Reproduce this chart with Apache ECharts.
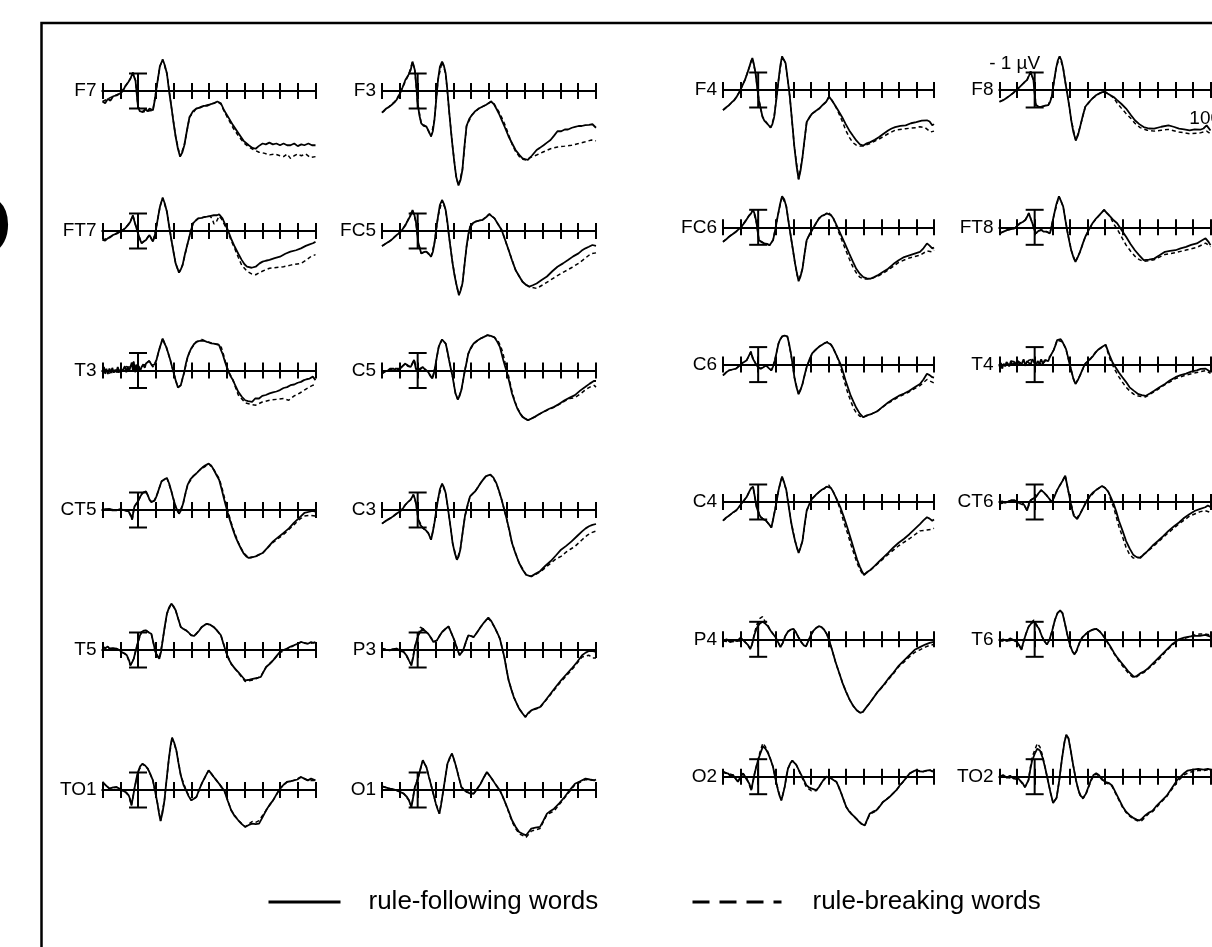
<!DOCTYPE html>
<html><head><meta charset="utf-8">
<script src="https://cdn.jsdelivr.net/npm/echarts@6/dist/echarts.min.js"></script>
<style>html,body{margin:0;padding:0;background:#fff}#c{width:1212px;height:947px}</style>
</head><body><div id="c"></div>
<script>
// ---- time axis (ms) and scale bar (µV) ----
const TIME_MIN = -200, TIME_MAX = 1000, TIME_STEP = 100;
const SCALE_BAR_UV = 1;
const seriesNames = ['rule-following words', 'rule-breaking words'];

// ---- waveforms: [time ms, amplitude µV] (negative plotted up) ----
const F7_follow = [[-200,0.6],[-185,0.7],[-170,0.45],[-155,0.55],[-140,0.3],[-120,0.25],[-100,0.13],[-85,0.0],[-73,-0.25],[-55,-0.5],[-43,-0.7],[-29,-1.05],[-20,-0.75],[-14,-0.6],[-5,0.4],[0,0.9],[10,1.15],[25,1.2],[40,1.05],[55,1.15],[65,1.0],[84,1.1],[95,0.5],[104,-0.15],[123,-1.4],[139,-1.8],[150,-1.5],[163,-1.0],[175,0.0],[188,0.9],[200,1.8],[212,2.6],[225,3.3],[237,3.75],[250,3.5],[261,3.1],[275,2.3],[290,1.5],[310,1.15],[329,1.0],[350,0.95],[370,0.85],[388,0.85],[410,0.75],[430,0.7],[447,0.6],[467,0.7],[485,1.1],[506,1.45],[535,1.95],[565,2.4],[595,2.85],[624,3.1],[645,3.25],[663,3.3],[680,3.15],[702,3.0],[720,3.05],[740,2.95],[760,3.05],[780,3.0],[800,3.1],[820,3.0],[840,3.1],[859,3.1],[880,3.0],[900,3.15],[920,3.05],[937,3.1],[960,3.0],[980,3.1],[1000,3.1]];
const F7_break = [[-200,0.6],[-170,0.45],[-140,0.3],[-100,0.13],[-73,-0.25],[-43,-0.7],[-29,-1.05],[-14,-0.6],[0,0.9],[25,1.2],[55,1.15],[84,1.1],[104,-0.15],[123,-1.4],[139,-1.8],[163,-1.0],[188,0.9],[212,2.6],[237,3.75],[261,3.1],[290,1.5],[329,1.0],[370,0.85],[410,0.75],[447,0.6],[467,0.75],[485,1.15],[506,1.55],[535,2.1],[565,2.55],[595,2.95],[624,3.2],[650,3.35],[682,3.5],[710,3.55],[741,3.65],[770,3.6],[800,3.7],[820,3.75],[840,3.6],[859,3.85],[880,3.7],[900,3.6],[920,3.7],[945,3.6],[970,3.8],[1000,3.75]];

const F3_follow = [[-200,1.24],[-176,1.0],[-160,0.9],[-147,0.8],[-130,0.65],[-118,0.5],[-98,0.13],[-85,-0.2],[-69,-0.63],[-50,-0.95],[-39,-1.2],[-29,-1.68],[-16,-1.2],[-8,-0.3],[0,0.7],[10,1.4],[20,1.85],[35,2.0],[49,2.04],[62,2.3],[75,2.6],[85,2.3],[94,1.65],[104,0.5],[114,-0.63],[125,-1.4],[137,-1.68],[147,-1.45],[157,-1.0],[167,0.0],[176,1.1],[186,2.2],[196,3.2],[206,4.1],[216,4.9],[229,5.4],[240,5.1],[251,4.5],[262,3.2],[274,2.0],[289,1.6],[304,1.37],[323,1.15],[343,1.0],[362,0.9],[382,0.8],[397,0.7],[412,0.6],[427,0.75],[441,1.0],[456,1.3],[471,1.65],[490,2.1],[510,2.6],[530,3.0],[549,3.37],[570,3.65],[588,3.85],[605,3.9],[618,3.94],[640,3.7],[667,3.37],[685,3.25],[706,3.1],[725,2.95],[745,2.8],[765,2.55],[784,2.3],[805,2.3],[825,2.2],[843,2.2],[865,2.1],[883,2.05],[902,2.0],[920,2.0],[940,1.95],[961,1.94],[980,1.9],[1000,2.1]];
const F3_break = [[-200,1.24],[-160,0.9],[-118,0.5],[-85,-0.2],[-50,-0.95],[-29,-1.68],[-16,-1.2],[0,0.7],[20,1.85],[49,2.04],[75,2.6],[94,1.65],[114,-0.63],[137,-1.68],[157,-1.0],[176,1.1],[196,3.2],[216,4.9],[229,5.4],[251,4.5],[274,2.0],[304,1.37],[343,1.0],[382,0.8],[412,0.6],[427,0.7],[441,0.95],[456,1.2],[471,1.5],[490,1.95],[510,2.5],[530,3.05],[549,3.45],[570,3.75],[590,3.9],[610,3.95],[630,3.8],[667,3.66],[700,3.5],[745,3.3],[785,3.2],[825,3.15],[863,3.1],[902,3.0],[940,2.9],[975,2.8],[1000,2.85]];

const FT7_follow = [[-200,0.51],[-185,0.55],[-171,0.42],[-155,0.35],[-141,0.23],[-120,0.15],[-102,0.04],[-85,-0.05],[-73,-0.15],[-55,-0.35],[-43,-0.53],[-29,-0.9],[-20,-0.55],[-14,-0.35],[0,0.13],[10,0.45],[20,0.7],[32,0.6],[45,0.51],[55,0.35],[65,0.23],[75,0.45],[84,0.6],[94,0.3],[104,-0.25],[114,-0.85],[124,-1.4],[139,-1.9],[150,-1.6],[163,-1.1],[175,-0.3],[188,0.5],[200,1.2],[212,1.85],[231,2.38],[241,2.2],[251,1.95],[265,1.3],[280,0.7],[295,0.1],[310,-0.44],[325,-0.6],[339,-0.72],[360,-0.75],[375,-0.8],[388,-0.82],[405,-0.85],[427,-0.9],[445,-0.9],[457,-0.95],[466,-0.85],[476,-0.72],[490,-0.4],[506,-0.06],[525,0.45],[545,0.9],[565,1.3],[584,1.65],[600,1.9],[614,2.04],[640,2.1],[663,2.04],[685,1.85],[702,1.75],[720,1.7],[741,1.65],[770,1.55],[800,1.47],[830,1.3],[859,1.18],[890,1.1],[918,0.99],[945,0.85],[967,0.76],[985,0.7],[1000,0.62]];
const FT7_break = [[-200,0.51],[-171,0.42],[-141,0.23],[-102,0.04],[-73,-0.15],[-43,-0.53],[-29,-0.9],[-14,-0.35],[0,0.13],[20,0.7],[45,0.51],[65,0.23],[84,0.6],[104,-0.25],[124,-1.4],[139,-1.9],[163,-1.1],[188,0.5],[212,1.85],[231,2.38],[251,1.95],[280,0.7],[310,-0.44],[339,-0.72],[375,-0.8],[405,-0.85],[418,-0.7],[428,-0.4],[440,-0.5],[457,-0.85],[470,-0.7],[490,-0.3],[506,0.05],[525,0.55],[545,1.0],[565,1.5],[584,1.95],[614,2.3],[640,2.45],[663,2.5],[700,2.3],[741,2.13],[780,2.08],[820,2.04],[860,1.95],[918,1.85],[950,1.65],[975,1.45],[1000,1.35]];

const FC5_follow = [[-200,0.86],[-176,0.7],[-160,0.6],[-147,0.51],[-130,0.35],[-118,0.23],[-100,0.1],[-88,-0.06],[-70,-0.3],[-59,-0.53],[-39,-0.9],[-29,-1.2],[-18,-0.9],[-10,-0.53],[4,0.7],[20,1.28],[35,1.2],[49,1.18],[62,1.3],[75,1.47],[85,1.2],[94,0.7],[104,-0.1],[114,-0.82],[125,-1.5],[137,-1.77],[147,-1.55],[157,-1.2],[167,-0.5],[176,0.32],[186,1.1],[196,1.85],[206,2.5],[216,3.0],[231,3.66],[241,3.4],[251,3.0],[262,2.0],[274,0.9],[284,0.2],[294,-0.25],[310,-0.45],[323,-0.53],[345,-0.6],[363,-0.63],[385,-0.8],[402,-0.97],[415,-0.85],[431,-0.72],[450,-0.4],[471,-0.06],[490,0.5],[510,1.09],[530,1.7],[549,2.23],[570,2.6],[588,2.9],[610,3.1],[627,3.18],[645,3.1],[667,3.0],[695,2.8],[725,2.6],[755,2.3],[784,2.04],[815,1.85],[843,1.66],[872,1.45],[902,1.28],[920,1.12],[941,0.99],[960,0.9],[980,0.8],[1000,0.85]];
const FC5_break = [[-200,0.86],[-160,0.6],[-118,0.23],[-88,-0.06],[-59,-0.53],[-29,-1.2],[-10,-0.53],[4,0.7],[20,1.28],[49,1.18],[75,1.47],[94,0.7],[114,-0.82],[137,-1.77],[157,-1.2],[176,0.32],[196,1.85],[216,3.0],[231,3.66],[251,3.0],[274,0.9],[294,-0.25],[323,-0.53],[363,-0.63],[402,-0.97],[431,-0.72],[471,-0.06],[510,1.09],[549,2.23],[588,2.9],[627,3.2],[667,3.28],[706,3.05],[745,2.8],[784,2.55],[823,2.32],[862,2.1],[902,1.85],[940,1.55],[971,1.3],[1000,1.25]];

const T3_follow = [[-200,0.08],[-192,-0.2],[-185,0.15],[-178,-0.1],[-170,0.2],[-161,-0.11],[-152,0.1],[-145,-0.15],[-136,0.12],[-128,-0.05],[-122,0.08],[-114,-0.2],[-105,0.1],[-96,-0.1],[-88,0.05],[-82,-0.06],[-74,-0.25],[-66,0.1],[-58,-0.2],[-50,0.05],[-43,-0.2],[-35,-0.45],[-28,0.05],[-24,-0.5],[-16,0.1],[-10,-0.3],[-4,0.0],[5,-0.25],[12,0.05],[20,-0.2],[30,-0.35],[38,-0.15],[45,-0.4],[55,-0.3],[63,-0.55],[71,-0.5],[78,-0.3],[84,-0.2],[94,-0.35],[104,-0.6],[114,-1.0],[124,-1.35],[132,-1.6],[139,-1.83],[149,-1.55],[159,-1.35],[170,-1.0],[182,-0.6],[192,-0.2],[202,0.17],[213,0.6],[225,0.97],[233,0.9],[241,0.84],[251,0.45],[261,0.08],[270,-0.4],[280,-0.78],[290,-1.05],[300,-1.26],[315,-1.5],[329,-1.64],[340,-1.75],[350,-1.7],[359,-1.77],[372,-1.7],[388,-1.64],[400,-1.6],[413,-1.55],[427,-1.54],[440,-1.5],[457,-1.45],[466,-1.2],[476,-0.97],[490,-0.5],[506,-0.02],[520,0.3],[535,0.55],[550,0.9],[565,1.22],[585,1.5],[604,1.7],[620,1.75],[643,1.79],[660,1.6],[682,1.6],[700,1.45],[720,1.4],[741,1.31],[760,1.25],[780,1.2],[800,1.12],[820,1.0],[840,0.95],[859,0.84],[880,0.8],[900,0.7],[918,0.65],[935,0.55],[950,0.5],[967,0.46],[985,0.35],[1000,0.55]];
const T3_break = [[-200,0.08],[-185,0.15],[-170,0.2],[-152,0.1],[-136,0.12],[-122,0.08],[-105,0.1],[-88,0.05],[-74,-0.25],[-58,-0.2],[-43,-0.2],[-24,-0.5],[-10,-0.3],[5,-0.25],[20,-0.2],[45,-0.4],[63,-0.55],[84,-0.2],[104,-0.6],[124,-1.35],[139,-1.83],[159,-1.35],[182,-0.6],[202,0.17],[225,0.97],[241,0.84],[261,0.08],[280,-0.78],[300,-1.26],[329,-1.64],[359,-1.77],[388,-1.64],[427,-1.54],[457,-1.5],[470,-1.3],[482,-0.9],[495,-0.4],[510,0.05],[535,0.55],[565,1.4],[604,1.85],[643,1.95],[663,1.98],[700,1.8],[741,1.7],[780,1.65],[820,1.6],[849,1.7],[880,1.45],[910,1.3],[937,1.12],[965,0.95],[986,0.84],[1000,0.8]];

const C5_follow = [[-200,0.17],[-185,0.05],[-167,0.0],[-155,-0.1],[-137,-0.11],[-120,0.0],[-98,-0.11],[-85,-0.25],[-69,-0.4],[-55,-0.25],[-39,-0.2],[-28,-0.45],[-20,-0.6],[-10,-0.1],[0,0.08],[12,-0.1],[29,-0.2],[45,0.0],[59,0.08],[70,0.3],[82,0.46],[90,0.2],[98,-0.2],[108,-0.8],[118,-1.35],[128,-1.6],[137,-1.77],[147,-1.7],[157,-1.54],[167,-1.1],[176,-0.6],[186,-0.1],[196,0.36],[204,0.85],[212,1.31],[225,1.66],[235,1.45],[245,1.12],[255,0.55],[265,-0.02],[275,-0.5],[284,-0.97],[298,-1.3],[314,-1.54],[333,-1.7],[353,-1.83],[372,-1.92],[392,-2.02],[410,-1.98],[431,-1.89],[446,-1.65],[461,-1.35],[470,-1.0],[480,-0.6],[490,-0.25],[500,0.08],[515,0.7],[529,1.31],[545,1.8],[559,2.17],[574,2.45],[588,2.65],[603,2.75],[618,2.84],[637,2.75],[657,2.65],[680,2.5],[706,2.36],[735,2.2],[765,2.08],[795,1.9],[824,1.7],[853,1.55],[882,1.41],[911,1.15],[941,0.93],[965,0.75],[990,0.59],[1000,0.6]];
const C5_break = [[-200,0.17],[-167,0.0],[-137,-0.11],[-98,-0.11],[-69,-0.4],[-39,-0.2],[-20,-0.6],[0,0.08],[29,-0.2],[59,0.08],[82,0.46],[98,-0.2],[118,-1.35],[137,-1.77],[157,-1.54],[176,-0.6],[196,0.36],[212,1.31],[225,1.66],[245,1.12],[265,-0.02],[284,-0.97],[314,-1.54],[353,-1.83],[392,-2.02],[431,-1.89],[450,-1.7],[465,-1.4],[478,-1.0],[490,-0.45],[502,-0.05],[515,0.55],[529,1.2],[545,1.75],[559,2.15],[588,2.65],[618,2.84],[657,2.65],[706,2.36],[765,2.1],[824,1.75],[853,1.6],[882,1.55],[911,1.35],[941,1.1],[965,0.95],[990,0.85],[1000,0.95]];

const CT5_follow = [[-200,0.0],[-185,-0.05],[-175,0.05],[-161,-0.06],[-145,0.02],[-122,0.02],[-100,-0.05],[-82,0.0],[-65,0.05],[-53,0.08],[-40,0.3],[-33,0.55],[-26,0.1],[-20,-0.2],[-10,-0.3],[0,-0.5],[12,-0.75],[25,-0.97],[35,-1.0],[45,-1.07],[55,-0.85],[65,-0.59],[75,-0.45],[84,-0.4],[94,-0.55],[104,-0.78],[118,-1.2],[133,-1.64],[148,-1.75],[163,-1.83],[176,-1.5],[188,-1.07],[200,-0.6],[212,-0.21],[222,0.05],[231,0.21],[243,0.0],[255,-0.4],[267,-0.95],[280,-1.45],[295,-1.75],[310,-1.92],[330,-2.1],[349,-2.3],[365,-2.45],[380,-2.55],[398,-2.65],[412,-2.55],[427,-2.3],[442,-2.0],[457,-1.73],[471,-1.2],[486,-0.59],[496,-0.2],[506,0.17],[520,0.65],[535,1.12],[550,1.55],[565,1.89],[580,2.2],[594,2.46],[610,2.65],[624,2.74],[643,2.7],[663,2.65],[682,2.55],[702,2.46],[730,2.15],[761,1.79],[790,1.55],[820,1.31],[850,1.05],[878,0.74],[908,0.45],[937,0.17],[965,0.1],[985,0.05],[1000,0.1]];
const CT5_break = [[-200,0.0],[-161,-0.06],[-122,0.02],[-82,0.0],[-53,0.08],[-33,0.55],[-20,-0.2],[0,-0.5],[25,-0.97],[45,-1.07],[65,-0.59],[84,-0.4],[104,-0.78],[133,-1.64],[163,-1.83],[188,-1.07],[212,-0.21],[231,0.21],[255,-0.4],[280,-1.45],[310,-1.92],[349,-2.3],[380,-2.5],[398,-2.65],[427,-2.3],[457,-1.8],[471,-1.35],[486,-0.75],[500,-0.2],[520,0.55],[535,1.05],[565,1.85],[594,2.45],[624,2.74],[663,2.65],[702,2.46],[761,1.85],[820,1.4],[878,0.85],[908,0.55],[937,0.35],[965,0.3],[1000,0.35]];

const C3_follow = [[-200,0.78],[-183,0.65],[-167,0.55],[-150,0.45],[-137,0.36],[-118,0.2],[-98,0.08],[-82,-0.1],[-69,-0.3],[-55,-0.45],[-39,-0.59],[-24,-0.88],[-16,-0.65],[-10,-0.4],[4,0.55],[15,0.85],[29,1.03],[45,1.15],[59,1.31],[67,1.5],[75,1.7],[84,1.3],[94,0.74],[104,0.05],[114,-0.59],[125,-1.2],[137,-1.5],[147,-1.3],[157,-0.97],[167,-0.3],[176,0.36],[186,1.1],[196,1.89],[208,2.45],[220,2.84],[230,2.65],[239,2.27],[252,1.3],[265,0.36],[280,-0.3],[294,-0.78],[310,-0.95],[323,-1.07],[338,-1.3],[353,-1.54],[368,-1.75],[382,-1.92],[395,-1.98],[408,-2.02],[425,-1.85],[441,-1.54],[456,-1.1],[471,-0.59],[486,0.0],[500,0.55],[515,1.2],[529,1.89],[549,2.5],[569,3.03],[588,3.4],[608,3.7],[622,3.75],[637,3.79],[660,3.65],[686,3.5],[715,3.2],[745,2.93],[775,2.6],[804,2.27],[833,2.05],[863,1.79],[893,1.5],[922,1.22],[942,1.05],[961,0.93],[980,0.85],[1000,0.8]];
const C3_break = [[-200,0.78],[-167,0.55],[-137,0.36],[-98,0.08],[-69,-0.3],[-39,-0.59],[-24,-0.88],[-10,-0.4],[4,0.55],[29,1.03],[59,1.31],[75,1.7],[94,0.74],[114,-0.59],[137,-1.5],[157,-0.97],[176,0.36],[196,1.89],[220,2.84],[239,2.27],[265,0.36],[294,-0.78],[323,-1.07],[353,-1.54],[382,-1.92],[408,-2.02],[441,-1.54],[471,-0.59],[500,0.55],[529,1.89],[569,3.03],[608,3.7],[637,3.8],[686,3.55],[745,3.05],[775,2.8],[804,2.65],[833,2.4],[863,2.2],[882,2.08],[922,1.7],[950,1.45],[971,1.31],[1000,1.2]];

const T5_follow = [[-200,-0.17],[-185,-0.1],[-170,-0.2],[-161,-0.08],[-140,-0.1],[-122,-0.08],[-105,0.0],[-92,0.11],[-75,0.2],[-63,0.3],[-50,0.6],[-43,0.88],[-33,0.7],[-24,0.5],[-12,0.0],[0,-0.46],[10,-0.8],[20,-1.03],[32,-1.1],[45,-1.12],[60,-1.0],[75,-0.93],[87,-0.4],[98,0.11],[110,0.35],[120,0.5],[130,0.1],[139,-0.55],[150,-1.3],[163,-2.08],[176,-2.45],[188,-2.65],[200,-2.5],[212,-2.27],[226,-1.8],[241,-1.31],[256,-1.2],[271,-1.12],[285,-1.0],[300,-0.84],[315,-0.8],[329,-0.93],[344,-1.1],[359,-1.31],[374,-1.42],[388,-1.5],[405,-1.45],[427,-1.31],[447,-1.1],[467,-0.84],[480,-0.4],[496,0.11],[510,0.5],[525,0.78],[545,1.05],[565,1.26],[585,1.5],[604,1.73],[628,1.7],[653,1.64],[672,1.6],[692,1.54],[707,1.25],[722,0.97],[741,0.8],[761,0.59],[780,0.35],[800,0.11],[820,0.0],[839,-0.08],[860,-0.2],[878,-0.27],[898,-0.35],[918,-0.46],[937,-0.4],[957,-0.36],[975,-0.45],[990,-0.4],[1000,-0.46]];
const T5_break = [[-200,-0.17],[-161,-0.08],[-122,-0.08],[-92,0.11],[-63,0.3],[-43,0.88],[-24,0.5],[0,-0.46],[20,-1.03],[45,-1.12],[75,-0.93],[98,0.11],[120,0.5],[139,-0.55],[163,-2.08],[188,-2.65],[212,-2.27],[241,-1.31],[271,-1.12],[300,-0.84],[329,-0.93],[359,-1.31],[388,-1.5],[427,-1.31],[467,-0.84],[496,0.11],[525,0.8],[565,1.3],[604,1.8],[653,1.7],[692,1.5],[722,0.97],[761,0.6],[800,0.15],[839,-0.05],[878,-0.25],[918,-0.45],[957,-0.35],[1000,-0.45]];

const P3_follow = [[-200,-0.08],[-180,-0.02],[-157,0.02],[-140,-0.05],[-118,-0.08],[-100,0.05],[-78,0.11],[-60,0.35],[-49,0.59],[-35,0.88],[-25,0.4],[-16,-0.17],[-5,-0.55],[4,-0.84],[15,-1.05],[29,-1.22],[45,-1.05],[59,-0.93],[75,-0.7],[88,-0.46],[98,-0.5],[108,-0.55],[122,-0.8],[137,-1.03],[155,-1.2],[173,-1.35],[190,-0.95],[206,-0.55],[220,-0.1],[235,0.3],[245,0.2],[255,0.02],[270,-0.45],[284,-0.84],[300,-0.8],[314,-0.74],[333,-1.0],[353,-1.31],[374,-1.6],[396,-1.85],[413,-1.65],[431,-1.31],[446,-1.0],[461,-0.65],[474,-0.1],[486,0.4],[498,1.1],[510,1.73],[525,2.25],[539,2.69],[555,3.05],[569,3.35],[586,3.6],[604,3.83],[620,3.6],[637,3.45],[660,3.35],[686,3.26],[715,2.9],[745,2.5],[775,2.1],[804,1.73],[833,1.4],[863,1.07],[893,0.7],[922,0.3],[942,0.15],[961,0.06],[980,0.05],[1000,0.11]];
const P3_break = [[-200,-0.08],[-157,0.02],[-118,-0.08],[-78,0.11],[-49,0.59],[-35,0.88],[-16,-0.17],[4,-0.84],[15,-1.3],[29,-1.22],[59,-0.93],[88,-0.46],[108,-0.55],[137,-1.03],[173,-1.35],[206,-0.55],[235,0.3],[255,0.02],[284,-0.84],[314,-0.74],[353,-1.31],[396,-1.85],[431,-1.31],[461,-0.65],[486,0.4],[510,1.73],[539,2.69],[569,3.35],[604,3.83],[637,3.45],[686,3.3],[745,2.55],[804,1.8],[863,1.15],[922,0.4],[942,0.35],[961,0.3],[980,0.45],[1000,0.45]];

const TO1_follow = [[-200,-0.46],[-185,-0.3],[-175,-0.4],[-161,-0.08],[-140,-0.15],[-122,-0.17],[-100,-0.05],[-82,0.06],[-65,0.15],[-53,0.3],[-45,0.5],[-37,0.88],[-28,0.4],[-20,-0.08],[-10,-0.6],[0,-1.03],[12,-1.35],[25,-1.5],[40,-1.4],[55,-1.22],[70,-0.9],[84,-0.55],[97,0.1],[110,0.78],[118,1.3],[127,1.77],[138,1.3],[149,0.59],[160,-0.5],[173,-1.7],[183,-2.5],[192,-2.99],[204,-2.7],[216,-2.27],[228,-1.55],[241,-0.84],[256,-0.3],[271,0.02],[285,0.35],[300,0.59],[315,0.5],[329,0.4],[344,0.0],[359,-0.36],[378,-0.75],[398,-1.12],[412,-0.95],[427,-0.74],[442,-0.55],[457,-0.36],[471,-0.15],[486,0.02],[505,0.6],[525,1.16],[545,1.5],[565,1.73],[585,1.95],[604,2.11],[624,2.0],[643,1.92],[663,1.95],[682,1.92],[702,1.55],[722,1.16],[741,0.85],[761,0.59],[780,0.25],[800,-0.08],[820,-0.3],[839,-0.46],[860,-0.5],[878,-0.55],[898,-0.6],[918,-0.74],[937,-0.65],[957,-0.55],[975,-0.65],[1000,-0.55]];
const TO1_break = [[-200,-0.46],[-161,-0.08],[-122,-0.17],[-82,0.06],[-53,0.3],[-37,0.88],[-20,-0.08],[0,-1.03],[25,-1.5],[55,-1.22],[84,-0.55],[110,0.78],[127,1.77],[149,0.59],[173,-1.7],[192,-2.99],[216,-2.27],[241,-0.84],[271,0.02],[300,0.59],[329,0.4],[359,-0.36],[398,-1.12],[427,-0.74],[457,-0.36],[486,0.02],[525,1.16],[565,1.73],[604,2.11],[643,1.8],[663,1.85],[682,1.75],[722,1.16],[761,0.59],[800,-0.08],[839,-0.46],[878,-0.55],[918,-0.74],[957,-0.55],[1000,-0.55]];

const O1_follow = [[-200,-0.21],[-180,-0.15],[-157,-0.08],[-140,-0.05],[-118,0.02],[-100,0.1],[-78,0.21],[-60,0.4],[-49,0.59],[-35,0.97],[-25,0.4],[-16,-0.17],[-5,-0.45],[4,-0.74],[15,-1.2],[29,-1.7],[39,-1.5],[49,-1.31],[63,-0.75],[78,-0.17],[90,0.3],[102,0.78],[112,1.1],[122,1.35],[131,0.85],[141,0.21],[154,-0.65],[167,-1.5],[180,-1.85],[192,-2.08],[204,-1.75],[216,-1.31],[230,-0.75],[245,-0.17],[260,0.0],[275,0.11],[294,0.2],[314,0.21],[333,-0.05],[353,-0.36],[370,-0.7],[388,-1.03],[405,-0.8],[422,-0.55],[441,-0.25],[461,0.02],[476,0.35],[490,0.69],[510,1.2],[529,1.73],[549,2.1],[569,2.4],[588,2.5],[608,2.59],[622,2.4],[637,2.21],[660,2.15],[686,2.11],[705,1.75],[725,1.35],[745,1.2],[765,1.07],[795,0.75],[824,0.4],[853,0.0],[882,-0.36],[911,-0.5],[941,-0.65],[965,-0.6],[990,-0.55],[1000,-0.6]];
const O1_break = [[-200,-0.21],[-157,-0.08],[-118,0.02],[-78,0.21],[-49,0.59],[-35,0.97],[-16,-0.17],[4,-0.74],[29,-1.7],[49,-1.31],[78,-0.17],[102,0.78],[122,1.35],[141,0.21],[167,-1.5],[192,-2.08],[216,-1.31],[245,-0.17],[275,0.11],[314,0.21],[353,-0.36],[388,-1.03],[422,-0.55],[461,0.02],[490,0.69],[529,1.8],[549,2.2],[569,2.5],[608,2.7],[637,2.35],[686,2.2],[725,1.4],[765,1.2],[824,0.45],[882,-0.3],[941,-0.6],[1000,-0.55]];

const F4_follow = [[-200,1.15],[-183,1.0],[-166,0.87],[-150,0.7],[-136,0.58],[-120,0.35],[-106,0.1],[-90,-0.25],[-75,-0.58],[-62,-0.95],[-49,-1.35],[-40,-1.65],[-33,-1.83],[-25,-1.5],[-15,-0.96],[-5,-0.1],[4,0.58],[15,1.1],[25,1.54],[35,1.75],[45,1.83],[58,2.0],[71,2.15],[81,1.95],[91,1.54],[104,0.5],[116,-0.58],[126,-1.4],[136,-1.92],[146,-1.85],[156,-1.54],[168,-0.6],[180,0.38],[193,1.8],[206,3.27],[218,4.3],[230,5.1],[241,4.6],[252,3.85],[264,2.8],[276,1.83],[292,1.55],[307,1.35],[327,1.2],[347,1.06],[367,0.85],[387,0.67],[403,0.38],[420,0.6],[437,0.87],[457,1.2],[477,1.54],[498,1.95],[518,2.31],[538,2.6],[558,2.88],[578,3.1],[598,3.17],[618,3.05],[638,2.98],[663,2.85],[688,2.69],[713,2.5],[739,2.31],[759,2.2],[779,2.12],[809,2.05],[839,2.02],[869,1.9],[899,1.83],[930,1.75],[960,1.73],[975,1.8],[990,2.02],[1000,1.95]];
const F4_break = [[-200,1.15],[-166,0.87],[-136,0.58],[-106,0.1],[-75,-0.58],[-49,-1.35],[-33,-1.83],[-15,-0.96],[4,0.58],[25,1.54],[45,1.83],[71,2.15],[91,1.54],[116,-0.58],[136,-1.92],[156,-1.54],[180,0.38],[206,3.27],[230,5.1],[252,3.85],[276,1.83],[307,1.35],[347,1.06],[387,0.67],[403,0.38],[420,0.6],[437,0.87],[457,1.3],[477,1.75],[498,2.3],[518,2.7],[538,3.0],[558,3.15],[578,3.2],[598,3.2],[638,3.05],[688,2.8],[739,2.5],[779,2.3],[839,2.21],[899,2.15],[920,2.1],[950,2.15],[980,2.4],[1000,2.35]];

const F8_follow = [[-200,0.67],[-182,0.6],[-164,0.48],[-145,0.35],[-124,0.19],[-104,0.0],[-83,-0.19],[-63,-0.4],[-43,-0.58],[-33,-0.8],[-23,-1.06],[-15,-0.8],[-7,-0.58],[0,0.2],[7,0.87],[22,0.95],[37,0.96],[57,0.9],[77,0.87],[87,0.7],[97,0.38],[110,-0.5],[122,-1.25],[132,-1.7],[142,-1.92],[152,-1.7],[162,-1.25],[175,-0.4],[188,0.38],[198,1.0],[208,1.73],[220,2.4],[234,2.88],[246,2.6],[258,2.12],[273,1.5],[288,0.96],[308,0.7],[329,0.48],[349,0.3],[369,0.19],[384,0.12],[399,0.1],[414,0.2],[429,0.29],[449,0.4],[469,0.58],[494,0.8],[520,1.06],[545,1.4],[570,1.73],[595,1.95],[620,2.12],[650,2.2],[680,2.21],[720,2.1],[761,2.02],[790,2.1],[821,2.21],[850,2.25],[881,2.31],[910,2.25],[942,2.27],[960,2.2],[978,2.02],[1000,2.31]];
const F8_break = [[-200,0.67],[-164,0.48],[-124,0.19],[-83,-0.19],[-43,-0.58],[-23,-1.06],[-7,-0.58],[7,0.87],[37,0.96],[77,0.87],[97,0.38],[122,-1.25],[142,-1.92],[162,-1.25],[188,0.38],[208,1.73],[234,2.88],[258,2.12],[288,0.96],[329,0.48],[369,0.19],[399,0.1],[429,0.29],[449,0.45],[469,0.75],[494,1.05],[520,1.35],[545,1.6],[570,1.9],[600,2.15],[640,2.3],[680,2.35],[720,2.3],[761,2.25],[821,2.4],[881,2.5],[942,2.45],[978,2.35],[1000,2.5]];

const FC6_follow = [[-200,0.83],[-183,0.7],[-166,0.54],[-146,0.4],[-126,0.25],[-110,0.1],[-95,-0.04],[-75,-0.3],[-55,-0.62],[-40,-0.8],[-29,-1.0],[-18,-0.7],[-9,-0.23],[4,0.73],[20,0.85],[35,0.92],[50,0.95],[65,1.02],[75,0.95],[85,0.73],[98,0.1],[111,-0.62],[124,-1.3],[136,-1.77],[148,-1.6],[160,-1.19],[173,-0.3],[186,0.54],[198,1.3],[210,2.08],[220,2.6],[230,3.08],[241,2.8],[252,2.37],[264,1.5],[276,0.73],[292,0.4],[307,0.15],[327,-0.2],[347,-0.52],[362,-0.65],[377,-0.71],[390,-0.8],[401,-0.85],[414,-0.7],[427,-0.52],[447,-0.1],[467,0.35],[492,0.9],[518,1.5],[538,1.95],[558,2.37],[578,2.65],[598,2.85],[618,2.92],[638,2.94],[659,2.85],[679,2.75],[709,2.55],[739,2.37],[769,2.1],[799,1.88],[830,1.7],[860,1.6],[890,1.5],[920,1.4],[940,1.2],[960,0.92],[975,1.05],[990,1.21],[1000,1.15]];
const FC6_break = [[-200,0.83],[-166,0.54],[-126,0.25],[-95,-0.04],[-55,-0.62],[-29,-1.0],[-9,-0.23],[4,0.73],[35,0.92],[65,1.02],[85,0.73],[111,-0.62],[136,-1.77],[160,-1.19],[186,0.54],[210,2.1],[222,2.75],[232,3.0],[252,2.37],[276,0.73],[307,0.15],[347,-0.52],[377,-0.71],[401,-0.85],[427,-0.52],[447,0.0],[467,0.5],[492,1.15],[518,1.8],[538,2.25],[558,2.6],[578,2.85],[598,2.95],[638,2.95],[679,2.8],[739,2.45],[799,2.0],[860,1.75],[920,1.6],[960,1.35],[990,1.4],[1000,1.3]];

const FT8_follow = [[-200,0.35],[-177,0.25],[-154,0.15],[-134,0.1],[-114,0.06],[-98,-0.1],[-83,-0.23],[-68,-0.3],[-53,-0.42],[-43,-0.6],[-33,-0.81],[-23,-0.5],[-13,-0.23],[-3,0.1],[7,0.35],[22,0.2],[37,0.15],[52,0.25],[67,0.25],[77,0.3],[87,0.35],[97,-0.1],[108,-0.62],[123,-1.3],[138,-1.77],[150,-1.5],[162,-1.19],[175,-0.4],[188,0.35],[198,0.85],[208,1.31],[220,1.7],[232,1.98],[245,1.7],[258,1.4],[273,0.95],[288,0.54],[308,0.15],[329,-0.23],[349,-0.5],[369,-0.71],[382,-0.85],[395,-1.0],[412,-0.8],[429,-0.62],[449,-0.4],[469,-0.23],[494,0.15],[520,0.54],[545,0.95],[570,1.31],[595,1.6],[620,1.88],[650,1.85],[680,1.79],[710,1.6],[741,1.4],[770,1.35],[801,1.31],[830,1.2],[861,1.12],[890,1.0],[922,0.92],[950,0.75],[972,0.63],[990,0.85],[1000,1.02]];
const FT8_break = [[-200,0.35],[-154,0.15],[-114,0.06],[-83,-0.23],[-53,-0.42],[-33,-0.81],[-13,-0.23],[7,0.35],[37,0.15],[67,0.25],[87,0.35],[108,-0.62],[138,-1.77],[162,-1.19],[188,0.35],[208,1.31],[232,1.98],[258,1.4],[288,0.54],[329,-0.23],[369,-0.71],[395,-1.0],[429,-0.62],[449,-0.2],[469,0.1],[494,0.55],[520,1.02],[545,1.35],[570,1.65],[595,1.85],[620,1.95],[650,1.9],[680,1.85],[741,1.55],[801,1.45],[861,1.3],[922,1.15],[972,0.9],[1000,1.1]];

const C6_follow = [[-200,0.62],[-183,0.45],[-166,0.33],[-146,0.28],[-126,0.23],[-110,0.1],[-95,-0.06],[-80,-0.15],[-65,-0.25],[-53,-0.5],[-41,-0.74],[-33,-0.4],[-25,-0.25],[-9,0.04],[3,0.2],[15,0.23],[30,0.15],[45,0.04],[60,0.2],[75,0.33],[85,0.1],[95,-0.25],[106,-0.75],[116,-1.22],[126,-1.45],[136,-1.61],[150,-1.65],[166,-1.61],[176,-1.2],[186,-0.64],[196,0.0],[206,0.72],[218,1.3],[230,1.69],[241,1.45],[252,1.11],[264,0.6],[276,0.14],[292,-0.3],[307,-0.64],[327,-0.85],[347,-1.03],[362,-1.12],[377,-1.22],[390,-1.28],[401,-1.32],[414,-1.15],[427,-0.93],[447,-0.5],[467,-0.06],[482,0.4],[497,0.91],[512,1.35],[527,1.79],[543,2.15],[558,2.47],[578,2.8],[598,3.01],[618,2.9],[638,2.85],[659,2.75],[679,2.66],[709,2.4],[739,2.17],[769,1.97],[799,1.79],[830,1.65],[860,1.5],[890,1.3],[920,1.11],[940,0.85],[960,0.52],[975,0.6],[990,0.72],[1000,0.75]];
const C6_break = [[-200,0.62],[-166,0.33],[-126,0.23],[-95,-0.06],[-65,-0.25],[-41,-0.74],[-25,-0.25],[-9,0.04],[15,0.23],[45,0.04],[75,0.33],[95,-0.25],[116,-1.22],[136,-1.61],[166,-1.61],[186,-0.64],[206,0.72],[230,1.69],[252,1.11],[276,0.14],[307,-0.64],[347,-1.03],[377,-1.22],[401,-1.32],[427,-0.93],[447,-0.5],[467,0.1],[482,0.65],[497,1.2],[512,1.7],[527,2.1],[543,2.5],[558,2.75],[578,2.95],[598,3.0],[638,2.85],[679,2.65],[739,2.2],[799,1.85],[860,1.55],[920,1.2],[960,0.85],[990,1.0],[1000,1.05]];

const T4_follow = [[-200,0.14],[-192,-0.1],[-185,0.2],[-176,-0.05],[-168,0.1],[-160,-0.15],[-154,-0.06],[-145,0.1],[-135,-0.2],[-125,0.05],[-114,-0.16],[-104,0.05],[-95,-0.2],[-85,0.0],[-73,-0.06],[-63,-0.3],[-53,0.05],[-43,-0.2],[-33,-0.25],[-23,0.0],[-13,-0.3],[-3,-0.16],[7,0.05],[17,-0.2],[27,-0.06],[37,-0.3],[47,-0.05],[57,-0.25],[67,-0.3],[77,-0.2],[87,-0.45],[97,-0.55],[108,-0.83],[118,-1.1],[128,-1.4],[138,-1.51],[148,-1.45],[158,-1.3],[168,-1.22],[178,-0.9],[188,-0.5],[198,-0.06],[210,0.4],[220,0.8],[232,1.11],[245,0.9],[258,0.62],[273,0.25],[288,-0.06],[303,-0.2],[319,-0.35],[333,-0.5],[346,-0.7],[359,-0.83],[374,-0.95],[389,-1.05],[404,-1.13],[416,-0.8],[429,-0.45],[444,-0.1],[459,0.14],[479,0.45],[499,0.72],[520,1.0],[540,1.3],[565,1.5],[590,1.69],[610,1.75],[631,1.79],[655,1.65],[680,1.5],[710,1.3],[741,1.11],[770,0.9],[801,0.72],[830,0.6],[861,0.52],[890,0.4],[922,0.33],[945,0.25],[972,0.23],[990,0.35],[1000,0.43]];
const T4_break = [[-200,0.14],[-185,0.2],[-168,0.1],[-154,-0.06],[-135,-0.2],[-114,-0.16],[-95,-0.2],[-73,-0.06],[-53,0.05],[-33,-0.25],[-13,-0.3],[7,0.05],[27,-0.06],[47,-0.05],[67,-0.3],[87,-0.45],[108,-0.83],[128,-1.4],[138,-1.51],[158,-1.3],[178,-0.9],[198,-0.06],[220,0.8],[232,1.11],[258,0.62],[288,-0.06],[319,-0.35],[359,-0.83],[404,-1.13],[416,-0.7],[429,-0.3],[444,0.05],[459,0.35],[479,0.7],[499,1.0],[520,1.3],[540,1.5],[565,1.7],[590,1.8],[631,1.85],[680,1.55],[741,1.15],[801,0.8],[861,0.6],[922,0.45],[972,0.35],[1000,0.5]];

const C4_follow = [[-200,1.07],[-183,0.9],[-166,0.78],[-146,0.62],[-126,0.49],[-110,0.3],[-95,0.1],[-80,-0.1],[-65,-0.29],[-53,-0.55],[-41,-0.78],[-29,-0.87],[-19,-0.3],[-9,0.29],[3,0.65],[15,0.87],[30,0.98],[45,1.07],[60,1.25],[75,1.46],[85,1.0],[95,0.49],[106,-0.1],[116,-0.68],[126,-1.1],[136,-1.46],[148,-1.1],[160,-0.68],[173,0.2],[186,1.07],[198,1.7],[210,2.23],[220,2.6],[230,2.91],[241,2.6],[252,2.23],[264,1.3],[276,0.49],[292,0.1],[307,-0.19],[327,-0.4],[347,-0.58],[362,-0.7],[377,-0.78],[390,-0.88],[401,-0.97],[414,-0.8],[427,-0.58],[447,-0.15],[467,0.29],[487,0.85],[507,1.46],[528,2.15],[548,2.82],[563,3.3],[578,3.69],[590,3.95],[602,4.17],[620,4.0],[638,3.88],[663,3.65],[688,3.4],[714,3.15],[739,2.91],[769,2.6],[799,2.33],[830,2.1],[860,1.84],[890,1.55],[920,1.26],[940,1.05],[960,0.87],[975,0.95],[990,1.07],[1000,1.0]];
const C4_break = [[-200,1.07],[-166,0.78],[-126,0.49],[-95,0.1],[-65,-0.29],[-41,-0.78],[-29,-0.87],[-9,0.29],[15,0.87],[45,1.07],[75,1.46],[95,0.49],[116,-0.68],[136,-1.46],[160,-0.68],[186,1.07],[210,2.23],[230,2.91],[252,2.23],[276,0.49],[307,-0.19],[347,-0.58],[377,-0.78],[401,-0.97],[427,-0.58],[447,-0.15],[467,0.45],[487,1.15],[507,1.75],[528,2.45],[548,3.05],[563,3.5],[578,3.85],[590,4.05],[602,4.15],[638,3.9],[688,3.45],[739,3.0],[799,2.5],[860,2.1],[920,1.65],[960,1.6],[990,1.55],[1000,1.5]];

const CT6_follow = [[-200,0.1],[-185,-0.05],[-170,0.05],[-154,0.0],[-134,-0.1],[-114,-0.1],[-95,0.05],[-73,0.0],[-58,0.2],[-43,0.49],[-33,0.1],[-23,-0.1],[-8,-0.2],[7,-0.29],[22,-0.5],[37,-0.68],[52,-0.55],[67,-0.39],[82,-0.2],[97,0.0],[112,-0.3],[128,-0.68],[143,-0.95],[158,-1.2],[174,-1.5],[186,-0.9],[198,-0.29],[210,0.3],[222,0.78],[242,0.97],[255,0.75],[268,0.49],[283,0.2],[298,-0.1],[315,-0.35],[332,-0.55],[349,-0.68],[366,-0.8],[383,-0.91],[401,-0.8],[419,-0.58],[434,-0.25],[449,0.1],[464,0.55],[479,1.07],[500,1.65],[520,2.23],[540,2.65],[560,3.01],[580,3.15],[600,3.2],[620,3.0],[640,2.82],[670,2.5],[701,2.23],[731,1.95],[761,1.65],[791,1.4],[821,1.17],[851,0.9],[882,0.68],[912,0.5],[942,0.39],[970,0.3],[985,0.2],[1000,0.29]];
const CT6_break = [[-200,0.1],[-170,0.05],[-134,-0.1],[-95,0.05],[-58,0.2],[-43,0.49],[-23,-0.1],[7,-0.29],[37,-0.68],[67,-0.39],[97,0.0],[128,-0.68],[158,-1.2],[174,-1.5],[198,-0.29],[222,0.7],[242,0.9],[268,0.49],[298,-0.1],[349,-0.68],[383,-0.91],[401,-0.8],[419,-0.58],[434,-0.1],[449,0.3],[464,0.85],[479,1.4],[500,2.0],[520,2.6],[540,3.0],[560,3.2],[580,3.2],[600,3.15],[640,2.85],[701,2.3],[761,1.75],[821,1.25],[882,0.8],[942,0.55],[970,0.5],[1000,0.6]];

const P4_follow = [[-200,0.1],[-180,0.0],[-160,0.15],[-140,0.05],[-120,0.1],[-100,-0.1],[-80,0.1],[-60,0.3],[-45,0.55],[-35,0.3],[-20,-0.3],[-5,-0.7],[10,-0.9],[25,-1.0],[40,-0.9],[55,-0.75],[70,-0.5],[85,-0.3],[100,-0.1],[115,0.2],[127,0.45],[140,0.2],[155,-0.2],[170,-0.45],[185,-0.55],[200,-0.6],[215,-0.4],[230,-0.1],[245,0.15],[260,0.35],[272,0.4],[285,0.1],[300,-0.25],[315,-0.5],[330,-0.65],[345,-0.75],[360,-0.7],[375,-0.55],[390,-0.3],[405,0.1],[420,0.6],[440,1.3],[460,1.9],[480,2.5],[500,3.0],[520,3.45],[540,3.8],[560,4.05],[580,4.2],[595,4.15],[610,3.95],[630,3.7],[655,3.35],[680,3.0],[710,2.65],[740,2.25],[770,1.9],[800,1.5],[830,1.2],[860,0.9],[890,0.6],[920,0.45],[950,0.3],[975,0.2],[1000,0.15]];
const P4_break = [[-200,0.1],[-160,0.15],[-120,0.1],[-80,0.1],[-60,0.3],[-45,0.55],[-35,0.3],[-20,-0.4],[-5,-0.9],[10,-1.2],[25,-1.3],[40,-1.0],[55,-0.8],[70,-0.5],[85,-0.3],[100,-0.1],[115,0.2],[127,0.45],[140,0.2],[155,-0.2],[170,-0.45],[185,-0.55],[200,-0.6],[215,-0.4],[230,-0.1],[245,0.15],[260,0.35],[272,0.4],[285,0.1],[300,-0.25],[315,-0.5],[330,-0.65],[345,-0.75],[360,-0.7],[375,-0.55],[390,-0.3],[405,0.1],[420,0.6],[440,1.3],[460,1.9],[480,2.5],[500,3.0],[520,3.45],[540,3.8],[560,4.05],[580,4.2],[595,4.15],[610,3.95],[630,3.7],[655,3.35],[680,3.0],[710,2.7],[740,2.3],[770,1.95],[800,1.55],[830,1.3],[860,1.0],[890,0.75],[920,0.6],[950,0.45],[975,0.35],[1000,0.3]];

const T6_follow = [[-200,0.1],[-180,0.0],[-160,0.1],[-140,-0.05],[-120,0.05],[-100,0.15],[-85,0.4],[-75,0.6],[-65,0.2],[-50,-0.3],[-35,-0.7],[-20,-0.9],[-5,-1.0],[10,-0.8],[25,-0.6],[40,-0.2],[55,0.1],[70,0.3],[85,0.0],[100,-0.5],[115,-1.1],[130,-1.5],[145,-1.65],[158,-1.5],[170,-1.0],[185,-0.3],[200,0.3],[215,0.7],[228,0.85],[240,0.6],[255,0.2],[270,-0.1],[290,-0.3],[310,-0.45],[330,-0.55],[350,-0.6],[370,-0.45],[390,-0.2],[410,0.1],[430,0.4],[450,0.75],[470,1.05],[490,1.3],[510,1.55],[530,1.8],[550,2.0],[565,2.15],[580,2.1],[600,1.95],[620,1.85],[640,1.7],[660,1.5],[680,1.3],[700,1.1],[720,0.9],[740,0.7],[760,0.5],[780,0.3],[800,0.15],[820,0.0],[850,-0.1],[880,-0.15],[910,-0.2],[940,-0.2],[970,-0.25],[1000,-0.15]];
const T6_break = [[-200,0.1],[-160,0.1],[-120,0.05],[-100,0.15],[-85,0.4],[-75,0.6],[-65,0.2],[-50,-0.3],[-35,-0.7],[-20,-0.95],[-5,-1.1],[10,-0.85],[25,-0.6],[40,-0.2],[55,0.1],[70,0.3],[85,0.0],[100,-0.5],[115,-1.1],[130,-1.5],[145,-1.65],[158,-1.5],[170,-1.0],[185,-0.3],[200,0.3],[215,0.7],[228,0.9],[240,0.65],[255,0.2],[270,-0.1],[290,-0.3],[310,-0.45],[330,-0.55],[350,-0.6],[370,-0.45],[390,-0.2],[410,0.1],[430,0.45],[450,0.8],[470,1.1],[490,1.4],[510,1.65],[530,1.9],[550,2.1],[565,2.2],[580,2.15],[600,2.0],[620,1.9],[640,1.75],[660,1.55],[680,1.4],[700,1.2],[720,1.0],[740,0.75],[760,0.55],[780,0.35],[800,0.2],[820,0.05],[850,-0.05],[880,-0.15],[910,-0.25],[940,-0.3],[970,-0.3],[1000,-0.25]];

const O2_follow = [[-200,-0.29],[-186,-0.2],[-172,-0.19],[-158,-0.05],[-143,-0.1],[-129,0.1],[-115,0.29],[-100,0.0],[-86,-0.19],[-75,0.0],[-64,0.1],[-50,0.4],[-39,0.77],[-30,0.3],[-20,-0.19],[-10,-0.6],[0,-0.96],[13,-1.35],[27,-1.73],[42,-1.6],[56,-1.35],[70,-1.0],[84,-0.58],[98,0.1],[113,0.77],[122,1.1],[132,1.35],[141,1.0],[151,0.58],[160,0.0],[170,-0.48],[182,-0.75],[194,-0.92],[205,-0.85],[217,-0.67],[230,-0.4],[245,-0.1],[260,0.2],[274,0.48],[288,0.6],[302,0.67],[317,0.72],[331,0.77],[345,0.6],[359,0.38],[374,0.15],[388,0.0],[402,0.05],[416,0.1],[430,0.2],[445,0.29],[459,0.6],[473,0.96],[487,1.35],[501,1.73],[515,1.95],[530,2.12],[544,2.25],[558,2.4],[572,2.55],[587,2.69],[597,2.75],[606,2.79],[620,2.45],[634,2.12],[653,2.0],[672,1.92],[691,1.7],[710,1.44],[729,1.3],[748,1.15],[767,0.95],[786,0.77],[805,0.5],[824,0.29],[843,0.05],[862,-0.19],[881,-0.3],[900,-0.38],[918,-0.3],[937,-0.29],[956,-0.35],[975,-0.38],[990,-0.3],[1000,-0.29]];
const O2_break = [[-200,-0.29],[-172,-0.19],[-143,-0.1],[-115,0.29],[-86,-0.19],[-64,0.1],[-39,0.77],[-20,-0.19],[0,-1.0],[13,-1.5],[27,-1.92],[42,-1.7],[56,-1.4],[84,-0.58],[113,0.77],[132,1.35],[151,0.58],[170,-0.48],[194,-0.92],[217,-0.67],[245,-0.05],[274,0.6],[302,0.8],[331,0.8],[359,0.38],[388,0.0],[416,0.1],[445,0.29],[473,0.96],[501,1.73],[530,2.12],[558,2.4],[587,2.69],[606,2.79],[620,2.5],[634,2.15],[672,1.95],[710,1.44],[748,1.15],[786,0.77],[824,0.29],[862,-0.19],[900,-0.38],[937,-0.29],[975,-0.38],[1000,-0.29]];

const TO2_follow = [[-200,0.0],[-180,-0.1],[-160,0.05],[-140,-0.05],[-120,0.1],[-100,0.0],[-85,0.2],[-70,0.35],[-55,0.6],[-45,0.7],[-35,0.2],[-25,-0.4],[-15,-0.9],[0,-1.3],[15,-1.6],[30,-1.5],[45,-1.1],[60,-0.5],[75,0.2],[90,0.9],[105,1.5],[115,1.6],[125,1.2],[140,0.2],[155,-1.0],[170,-2.0],[180,-2.4],[192,-2.2],[205,-1.5],[220,-0.6],[235,0.2],[250,0.8],[262,1.1],[275,1.2],[290,1.0],[305,0.6],[320,0.2],[335,-0.1],[350,-0.2],[365,-0.1],[380,0.1],[400,0.3],[420,0.35],[440,0.5],[460,0.9],[480,1.3],[500,1.7],[520,2.0],[540,2.2],[560,2.35],[580,2.45],[595,2.5],[610,2.4],[630,2.2],[650,2.05],[670,1.95],[690,1.7],[710,1.5],[730,1.3],[750,1.1],[770,0.8],[790,0.5],[810,0.2],[830,0.0],[850,-0.2],[870,-0.35],[900,-0.4],[930,-0.45],[960,-0.4],[985,-0.45],[1000,-0.4]];
const TO2_break = [[-200,0.0],[-160,0.05],[-120,0.1],[-85,0.2],[-55,0.6],[-45,0.7],[-35,0.2],[-25,-0.5],[-15,-1.1],[0,-1.5],[15,-1.9],[30,-1.7],[45,-1.2],[60,-0.5],[75,0.2],[90,0.9],[105,1.5],[115,1.6],[125,1.2],[140,0.2],[155,-1.0],[170,-2.0],[180,-2.4],[192,-2.2],[205,-1.5],[220,-0.6],[235,0.2],[250,0.85],[262,1.15],[275,1.25],[290,1.05],[305,0.65],[320,0.25],[335,-0.05],[350,-0.15],[365,-0.05],[380,0.15],[400,0.35],[420,0.4],[440,0.55],[460,0.95],[480,1.35],[500,1.75],[520,2.05],[540,2.25],[560,2.4],[580,2.5],[595,2.55],[610,2.5],[630,2.3],[650,2.1],[670,2.0],[690,1.8],[710,1.55],[730,1.35],[750,1.15],[770,0.85],[790,0.6],[810,0.3],[830,0.1],[850,-0.1],[870,-0.2],[900,-0.3],[930,-0.35],[960,-0.35],[985,-0.4],[1000,-0.35]];

// ---- electrode labels per column (top to bottom) ----
const col1Labels = ['F7','FT7','T3','CT5','T5','TO1'];
const col2Labels = ['F3','FC5','C5','C3','P3','O1'];
const col3Labels = ['F4','FC6','C6','C4','P4','O2'];
const col4Labels = ['F8','FT8','T4','CT6','T6','TO2'];
const col1Data = [[F7_follow,F7_break],[FT7_follow,FT7_break],[T3_follow,T3_break],[CT5_follow,CT5_break],[T5_follow,T5_break],[TO1_follow,TO1_break]];
const col2Data = [[F3_follow,F3_break],[FC5_follow,FC5_break],[C5_follow,C5_break],[C3_follow,C3_break],[P3_follow,P3_break],[O1_follow,O1_break]];
const col3Data = [[F4_follow,F4_break],[FC6_follow,FC6_break],[C6_follow,C6_break],[C4_follow,C4_break],[P4_follow,P4_break],[O2_follow,O2_break]];
const col4Data = [[F8_follow,F8_break],[FT8_follow,FT8_break],[T4_follow,T4_break],[CT6_follow,CT6_break],[T6_follow,T6_break],[TO2_follow,TO2_break]];

// ---- layout (pixels) ----
const colX = [102.5, 382, 723, 999.5];
const colW = [213, 214, 211, 211];
const rowsLeft = [91, 231, 370.5, 510, 650, 790];
const rowsRight = [90, 227.3, 364.6, 502, 639.3, 776.7];
const PX_PER_UV = 17.5, Y_MIN = -4, Y_MAX = 6;
const FONT = '"Liberation Sans", Arial, Helvetica, sans-serif';

const grid = [], xAxis = [], yAxis = [], series = [], graphic = [];
const cols = [[col1Labels,col1Data],[col2Labels,col2Data],[col3Labels,col3Data],[col4Labels,col4Data]];
let gi = 0;
cols.forEach(([labels, data], c) => {
  const rows = c < 2 ? rowsLeft : rowsRight;
  labels.forEach((lab, r) => {
    const base = rows[r];
    grid.push({left: colX[c], width: colW[c], top: base - (0 - Y_MIN) * PX_PER_UV,
      height: (Y_MAX - Y_MIN) * PX_PER_UV, containLabel: false, outerBoundsMode: 'none'});
    const yMain = 2 * gi, yAux = 2 * gi + 1;
    const axCommon = {gridIndex: gi, type: 'value', min: TIME_MIN, max: TIME_MAX, interval: TIME_STEP,
      axisLabel: {show: false}, splitLine: {show: false},
      axisTick: {show: true, inside: false, length: 8, lineStyle: {color: '#000', width: 2}}};
    // two axes on the zero line: ticks below (bottom) and ticks above (top)
    xAxis.push(Object.assign({}, axCommon, {position: 'bottom',
      axisLine: {show: true, onZero: true, onZeroAxisIndex: yMain, lineStyle: {color: '#000', width: 2}}}));
    xAxis.push(Object.assign({}, axCommon, {position: 'top',
      axisLine: {show: true, onZero: true, onZeroAxisIndex: yAux, lineStyle: {color: '#000', width: 2}}}));
    yAxis.push({gridIndex: gi, type: 'value', inverse: true, min: Y_MIN, max: Y_MAX, show: false, position: 'left'});
    yAxis.push({gridIndex: gi, type: 'value', inverse: true, min: Y_MIN, max: Y_MAX, show: false, position: 'right'});
    series.push({name: seriesNames[1], type: 'line', xAxisIndex: 2 * gi, yAxisIndex: yMain, data: data[r][1],
      symbol: 'none', silent: true, clip: false, z: 2,
      lineStyle: {color: '#000', width: 1.5, type: [4, 3]}, itemStyle: {color: '#000'}});
    series.push({name: seriesNames[0], type: 'line', xAxisIndex: 2 * gi, yAxisIndex: yMain, data: data[r][0],
      symbol: 'none', silent: true, clip: false, z: 3,
      lineStyle: {color: '#000', width: 1.8, type: 'solid'}, itemStyle: {color: '#000'}});
    series.push({name: 'scale', type: 'custom', xAxisIndex: 2 * gi, yAxisIndex: yMain, silent: true, z: 4,
      data: [[0, -SCALE_BAR_UV, SCALE_BAR_UV]], encode: {x: 0, y: [1, 2]},
      renderItem: (params, api) => {
        const a = api.coord([api.value(0), api.value(1)]);
        const b = api.coord([api.value(0), api.value(2)]);
        const h = 9, st = {stroke: '#000', lineWidth: 2};
        return {type: 'group', children: [
          {type: 'line', shape: {x1: a[0], y1: a[1], x2: b[0], y2: b[1]}, style: st},
          {type: 'line', shape: {x1: a[0] - h, y1: a[1], x2: a[0] + h, y2: a[1]}, style: st},
          {type: 'line', shape: {x1: b[0] - h, y1: b[1], x2: b[0] + h, y2: b[1]}, style: st}]};
      }});
    graphic.push({type: 'text', x: colX[c] - 6, y: base, silent: true,
      style: {text: lab, fill: '#000', font: '19px ' + FONT, textAlign: 'right', textVerticalAlign: 'middle', align: 'right', verticalAlign: 'middle'}});
    gi++;
  });
});

// scale labels on the F8 panel
const f8Base = rowsRight[0];
const f8Zero = colX[3] + (0 - TIME_MIN) / (TIME_MAX - TIME_MIN) * colW[3];
const f8End = colX[3] + colW[3];
graphic.push({type: 'text', x: f8Zero - 20, y: f8Base - SCALE_BAR_UV * PX_PER_UV + 1, silent: true,
  style: {text: '- ' + SCALE_BAR_UV + ' µV', fill: '#000', font: '19px ' + FONT, textAlign: 'center', textVerticalAlign: 'bottom', align: 'center', verticalAlign: 'bottom'}});
graphic.push({type: 'text', x: f8End, y: f8Base + 28.5, silent: true,
  style: {text: String(TIME_MAX), fill: '#000', font: '19px ' + FONT, textAlign: 'center', textVerticalAlign: 'middle', align: 'center', verticalAlign: 'middle'}});
// frame and panel letter
graphic.push({type: 'rect', silent: true, z: -10, shape: {x: 41.5, y: 23, width: 1400, height: 1200},
  style: {fill: 'none', stroke: '#000', lineWidth: 2.5}});
graphic.push({type: 'text', x: 12, y: 232, silent: true,
  style: {text: 'D', fill: '#000', font: 'bold 92px ' + FONT, textAlign: 'right', textVerticalAlign: 'middle', align: 'right', verticalAlign: 'middle'}});

const legend = [
  {data: [seriesNames[0]], left: 262, top: 884, itemWidth: 72, itemHeight: 14, selectedMode: false,
   lineStyle: {color: '#000', width: 3, type: 'solid'}, itemStyle: {opacity: 0},
   textStyle: {fontSize: 26, fontFamily: FONT, color: '#000', padding: [0, 0, 0, 23]}},
  {data: [seriesNames[1]], left: 686, top: 884, itemWidth: 89, itemHeight: 14, selectedMode: false,
   lineStyle: {color: '#000', width: 3, type: [17, 10]}, itemStyle: {opacity: 0},
   textStyle: {fontSize: 26, fontFamily: FONT, color: '#000', padding: [0, 0, 0, 26]}}
];

const chart = echarts.init(document.getElementById('c'), null, {renderer: 'canvas'});
chart.setOption({backgroundColor: '#fff', animation: false, grid, xAxis, yAxis, series, graphic, legend});
</script></body></html>
